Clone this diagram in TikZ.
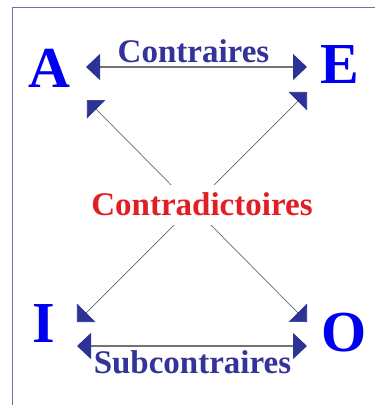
\documentclass[tikz,border=0pt]{standalone}
\usepackage{fontspec}
\setmainfont{Liberation Serif}
\usetikzlibrary{arrows.meta}
\definecolor{letterblue}{RGB}{0,0,240}
\definecolor{labelblue}{RGB}{51,51,153}
\definecolor{tipblue}{RGB}{45,50,150}
\definecolor{framecol}{RGB}{110,110,175}
\definecolor{contrared}{RGB}{225,30,35}
\tikzset{
  letter/.style={anchor=base, inner sep=0pt, text=letterblue, font=\fontsize{58}{58}\selectfont\bfseries},
  relabel/.style={anchor=base, inner sep=0pt, text=labelblue, font=\fontsize{33}{33}\selectfont\bfseries},
  hlink/.style={draw=gray!90!black, line width=1.2pt, arrows={Triangle[length=14pt,width=26pt,color=tipblue]-Triangle[length=14pt,width=26pt,color=tipblue]}},
  dlink/.style={draw=gray!85!black, line width=0.7pt, arrows={Triangle[length=13pt,width=26pt,color=tipblue]-Triangle[length=13pt,width=26pt,color=tipblue]}}
}
\begin{document}
\begin{tikzpicture}[x=1pt,y=-1pt]
\useasboundingbox[fill=white] (0,0) rectangle (375,405);
\draw[framecol, line width=1pt] (12,410) -- (12,7) -- (380,7);
% letters
\node[letter] (A) at (49,87) {A};
\node[letter] (E) at (340,83) {E};
\node[letter] (I) at (44,342) {I};
\node[letter] (O) at (344,351) {O};
% arrow endpoints
\coordinate (cA) at (86,67);
\coordinate (cE) at (307,67);
\coordinate (dA) at (87,100);
\coordinate (dE) at (307,92);
\coordinate (dI) at (77,322);
\coordinate (dO) at (307,322);
\coordinate (sI) at (77,346);
\coordinate (sO) at (307,346);
% connectors
\draw[hlink] (cA) -- (cE);
\draw[hlink] (sI) -- (sO);
\draw[dlink] (dA) -- (dO);
\draw[dlink] (dE) -- (dI);
% labels
\node[relabel] (contraires) at (193.5,62) {Contraires};
\node[relabel] (sub) at (192.5,373) {Subcontraires};
\node[anchor=base, fill=white, inner xsep=2pt, inner ysep=7pt, text depth=3pt, text=contrared, font=\fontsize{33}{33}\selectfont\bfseries] (contra) at (202,215) {Contradictoires};
\end{tikzpicture}
\end{document}
